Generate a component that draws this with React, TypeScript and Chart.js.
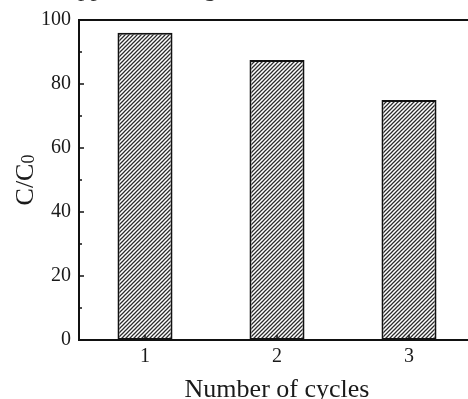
import React, { useEffect, useRef } from 'react';
import { Chart, registerables } from 'chart.js';

Chart.register(...registerables);

// Retention after each reuse cycle
const cycles = ['1', '2', '3'];
const ratio = [96, 87.5, 75];
const yTicks = [0, 20, 40, 60, 80, 100];
const yMinorTicks = [10, 30, 50, 70, 90];
const xTitle = 'Number of cycles';
const yTitleMain = 'C/C';
const yTitleSub = '0';
const captionTail = 'and copper leaching [16, 18].';

const SERIF = '"Liberation Serif", "Times New Roman", serif';
const INK = '#111';

function hatchPattern(): CanvasPattern | string {
  const c = document.createElement('canvas');
  c.width = 4;
  c.height = 4;
  const g = c.getContext('2d');
  if (!g) return '#888';
  g.fillStyle = '#fff';
  g.fillRect(0, 0, 4, 4);
  g.strokeStyle = '#2b2b2b';
  g.lineWidth = 1.25;
  g.beginPath();
  g.moveTo(-1, 5);
  g.lineTo(5, -1);
  g.moveTo(-1, 1);
  g.lineTo(1, -1);
  g.moveTo(3, 5);
  g.lineTo(5, 3);
  g.stroke();
  return g.createPattern(c, 'repeat') ?? '#888';
}

// Closed frame with inward tick marks
const framePlugin = {
  id: 'frame',
  afterDatasetsDraw(chart: any) {
    const { ctx, chartArea: a, scales } = chart;
    ctx.save();
    ctx.strokeStyle = INK;
    ctx.lineWidth = 2;
    ctx.beginPath();
    ctx.moveTo(a.left, a.top);
    ctx.lineTo(a.right, a.top);
    ctx.lineTo(a.right, a.bottom);
    ctx.lineTo(a.left, a.bottom);
    ctx.closePath();
    ctx.stroke();

    ctx.lineWidth = 1.5;
    ctx.beginPath();
    yTicks.forEach((v) => {
      const y = scales.y.getPixelForValue(v);
      ctx.moveTo(a.left, y);
      ctx.lineTo(a.left + 5, y);
    });
    yMinorTicks.forEach((v) => {
      const y = scales.y.getPixelForValue(v);
      ctx.moveTo(a.left, y);
      ctx.lineTo(a.left + 3, y);
    });
    cycles.forEach((_, i) => {
      const x = scales.x.getPixelForValue(i);
      ctx.moveTo(x, a.bottom);
      ctx.lineTo(x, a.bottom - 5);
    });
    ctx.stroke();
    ctx.restore();
  },
};

// Axis titles (with the subscript in C/C0) and the caption line above the figure
const textPlugin = {
  id: 'texts',
  afterDraw(chart: any) {
    const { ctx, chartArea: a } = chart;
    ctx.save();
    ctx.fillStyle = '#1a1a1a';
    ctx.textBaseline = 'alphabetic';

    ctx.font = `26px ${SERIF}`;
    ctx.textAlign = 'center';
    ctx.fillText(xTitle, (a.left + a.right) / 2, 397);

    ctx.textAlign = 'left';
    const mainFont = `26px ${SERIF}`;
    const subFont = `18px ${SERIF}`;
    ctx.font = mainFont;
    const w1 = ctx.measureText(yTitleMain).width;
    ctx.font = subFont;
    const w2 = ctx.measureText(yTitleSub).width;
    ctx.translate(33, (a.top + a.bottom) / 2);
    ctx.rotate(-Math.PI / 2);
    const x0 = -(w1 + w2) / 2;
    ctx.font = mainFont;
    ctx.fillText(yTitleMain, x0, 0);
    ctx.font = subFont;
    ctx.fillText(yTitleSub, x0 + w1, 1);
    ctx.restore();

    ctx.save();
    ctx.font = `25px ${SERIF}`;
    (ctx as any).wordSpacing = '3px';
    ctx.fillStyle = '#333';
    ctx.textBaseline = 'alphabetic';
    ctx.textAlign = 'left';
    const lead = ctx.measureText('and co').width;
    ctx.fillText(captionTail, 78 - lead, -4.5);
    ctx.restore();
  },
};

export default function App() {
  const ref = useRef<HTMLCanvasElement>(null);

  useEffect(() => {
    if (!ref.current) return;
    const chart = new Chart(ref.current, {
      type: 'bar',
      data: {
        labels: cycles,
        datasets: [
          {
            data: ratio,
            backgroundColor: hatchPattern() as any,
            borderColor: INK,
            borderWidth: 2,
            borderSkipped: false,
            barPercentage: 0.417,
            categoryPercentage: 1,
          },
        ],
      },
      options: {
        responsive: false,
        animation: false,
        devicePixelRatio: 1,
        layout: { padding: { top: 20, right: 5, left: 0, bottom: 0 } },
        plugins: { legend: { display: false }, tooltip: { enabled: false } },
        scales: {
          x: {
            type: 'category',
            offset: true,
            grid: { display: false, drawTicks: false },
            border: { display: false },
            ticks: { font: { family: SERIF, size: 20 }, color: '#1a1a1a', padding: 5 },
            afterFit: (s: any) => {
              s.height = 59;
            },
          },
          y: {
            min: 0,
            max: 100,
            grid: { display: false, drawTicks: false },
            border: { display: false },
            ticks: { stepSize: 20, font: { family: SERIF, size: 20 }, color: '#1a1a1a', padding: 8 },
            afterFit: (s: any) => {
              s.width = 79;
            },
          },
        },
      },
      plugins: [framePlugin, textPlugin],
    });
    return () => chart.destroy();
  }, []);

  return (
    <div style={{ position: 'fixed', left: 0, top: 0, width: 480, height: 399 }}>
      <canvas ref={ref} width={480} height={399} style={{ display: 'block', width: 480, height: 399 }} />
    </div>
  );
}
